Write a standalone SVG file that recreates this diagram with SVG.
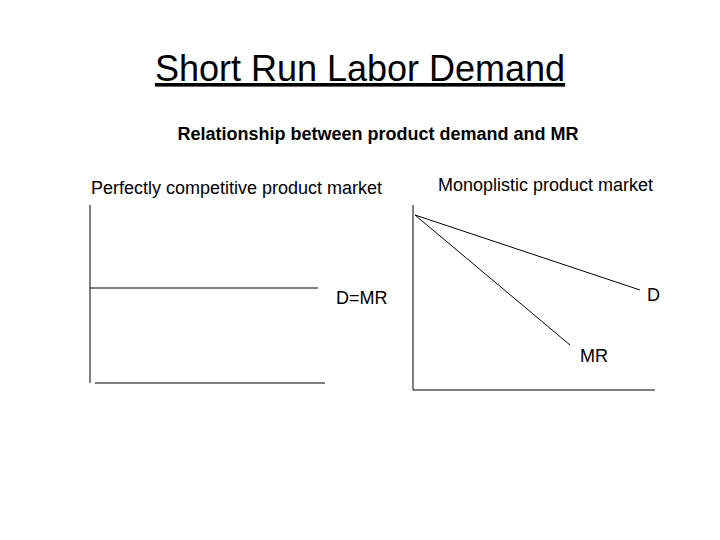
<svg xmlns="http://www.w3.org/2000/svg" width="720" height="540" viewBox="0 0 720 540">
<style>
text{font-family:"Liberation Sans",Arial,sans-serif;fill:#000}
line{stroke:#000;stroke-width:1}
</style>
<rect width="720" height="540" fill="#fff"/>
<text x="360" y="81" font-size="36" text-anchor="middle" text-decoration="underline">Short Run Labor Demand</text>
<text x="378" y="140" font-size="18" font-weight="bold" text-anchor="middle">Relationship between product demand and MR</text>
<g id="left">
<text x="91" y="194" font-size="18">Perfectly competitive product market</text>
<line x1="90" y1="205" x2="90" y2="383"/>
<line x1="95" y1="383" x2="325" y2="383"/>
<line x1="90" y1="288" x2="318" y2="288"/>
<text x="336" y="304" font-size="18">D=MR</text>
</g>
<g id="right">
<text x="438" y="191" font-size="18">Monoplistic product market</text>
<line x1="413" y1="205" x2="413" y2="390"/>
<line x1="413" y1="390" x2="655" y2="390"/>
<line x1="415" y1="215" x2="640" y2="290"/>
<line x1="415" y1="215" x2="570" y2="345"/>
<text x="647" y="301" font-size="18">D</text>
<text x="580" y="362" font-size="18">MR</text>
</g>
</svg>
